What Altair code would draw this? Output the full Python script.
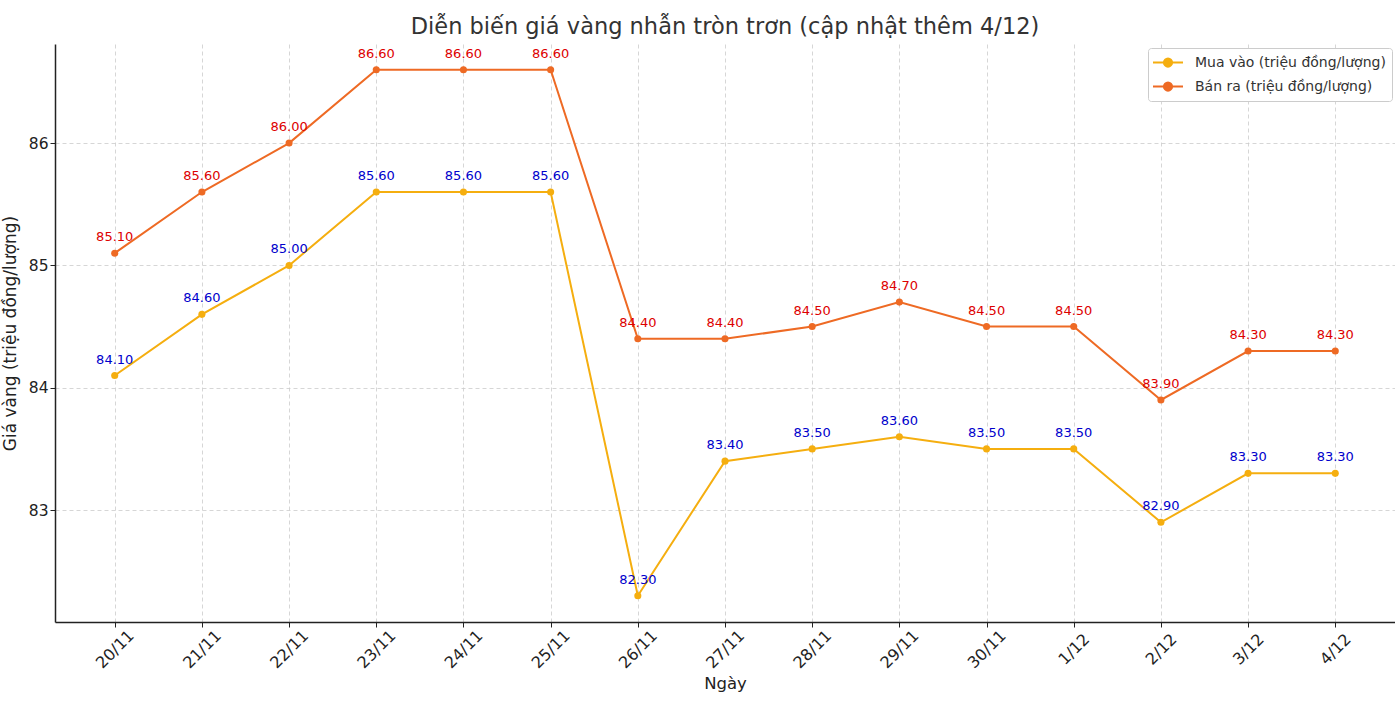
import altair as alt
import pandas as pd

dates = ["20/11", "21/11", "22/11", "23/11", "24/11", "25/11", "26/11", "27/11",
         "28/11", "29/11", "30/11", "1/12", "2/12", "3/12", "4/12"]
mua_vao = [84.10, 84.60, 85.00, 85.60, 85.60, 85.60, 82.30, 83.40,
           83.50, 83.60, 83.50, 83.50, 82.90, 83.30, 83.30]
ban_ra = [85.10, 85.60, 86.00, 86.60, 86.60, 86.60, 84.40, 84.40,
          84.50, 84.70, 84.50, 84.50, 83.90, 84.30, 84.30]
series_names = ["Mua vào (triệu đồng/lượng)", "Bán ra (triệu đồng/lượng)"]
line_colors = ["#F5AE0F", "#EE6A24"]
label_colors = ["#0000CC", "#DD0000"]

rows = []
for i, d in enumerate(dates):
    rows.append({"date": d, "series": series_names[0], "value": mua_vao[i], "order": 0})
    rows.append({"date": d, "series": series_names[1], "value": ban_ra[i], "order": 1})
df = pd.DataFrame(rows)
df["label"] = df["value"].map(lambda v: f"{v:.2f}")

FONT = "DejaVu Sans"

x_enc = alt.X("date:N", sort=dates, title="Ngày",
              scale=alt.Scale(type="point", padding=0.685),
              axis=alt.Axis(labelAngle=-45, labelAlign="center", labelBaseline="middle",
                            labelPadding=22, labelFontSize=16, titleFontSize=16.5,
                            titlePadding=5, grid=True))
y_enc = alt.Y("value:Q", title="Giá vàng (triệu đồng/lượng)",
              scale=alt.Scale(domain=[82.085, 86.81], nice=False, zero=False),
              axis=alt.Axis(values=[83, 84, 85, 86], labelFontSize=15.5, titleFontSize=17,
                            titlePadding=9, grid=True, format="d"))

legend_symbol = "M-2,0L2,0M-0.55,0A0.55,0.55 0 1,1 0.55,0A0.55,0.55 0 1,1 -0.55,0Z"

color_enc = alt.Color("series:N", sort=series_names,
                      scale=alt.Scale(domain=series_names, range=line_colors),
                      legend=alt.Legend(title=None, orient="none", legendX=1093, legendY=4,
                                        labelFontSize=14, labelLimit=0, symbolType=legend_symbol,
                                        symbolSize=225, symbolStrokeWidth=2,
                                        symbolOffset=5.5, labelOffset=18.5,
                                        rowPadding=7, padding=6,
                                        strokeColor="#cccccc", fillColor="white",
                                        cornerRadius=3, labelColor="#333333"))

base = alt.Chart(df)
lines = base.mark_line(strokeWidth=2, point=alt.OverlayMarkDef(filled=True, size=50)).encode(
    x=x_enc, y=y_enc, color=color_enc, order="order:Q"
)

texts = []
for name, col in zip(series_names, label_colors):
    texts.append(
        base.transform_filter(alt.datum.series == name)
        .mark_text(fontSize=13, dy=-12, baseline="alphabetic", align="center", color=col, font=FONT)
        .encode(x=alt.X("date:N", sort=dates), y="value:Q", text="label:N")
    )

chart = alt.layer(lines, *texts).properties(
    width=1340, height=578,
    title=alt.TitleParams("Diễn biến giá vàng nhẫn tròn trơn (cập nhật thêm 4/12)",
                          fontSize=22.5, fontWeight="normal", color="#333333", offset=6, font=FONT),
    autosize=alt.AutoSizeParams(type="none"),
    padding={"left": 55, "top": 44, "right": 0, "bottom": 94},
).configure_view(stroke=None).configure_axis(
    labelFont=FONT, titleFont=FONT, labelColor="#222222", titleColor="#222222",
    titleFontWeight="normal", domainColor="#222222", domainWidth=1.5,
    tickColor="#222222", tickSize=5, gridColor="#cccccc", gridDash=[4, 3], gridWidth=0.8
).configure_legend(labelFont=FONT)

chart.save("out.html", embed_options={"renderer": "svg", "actions": False})
